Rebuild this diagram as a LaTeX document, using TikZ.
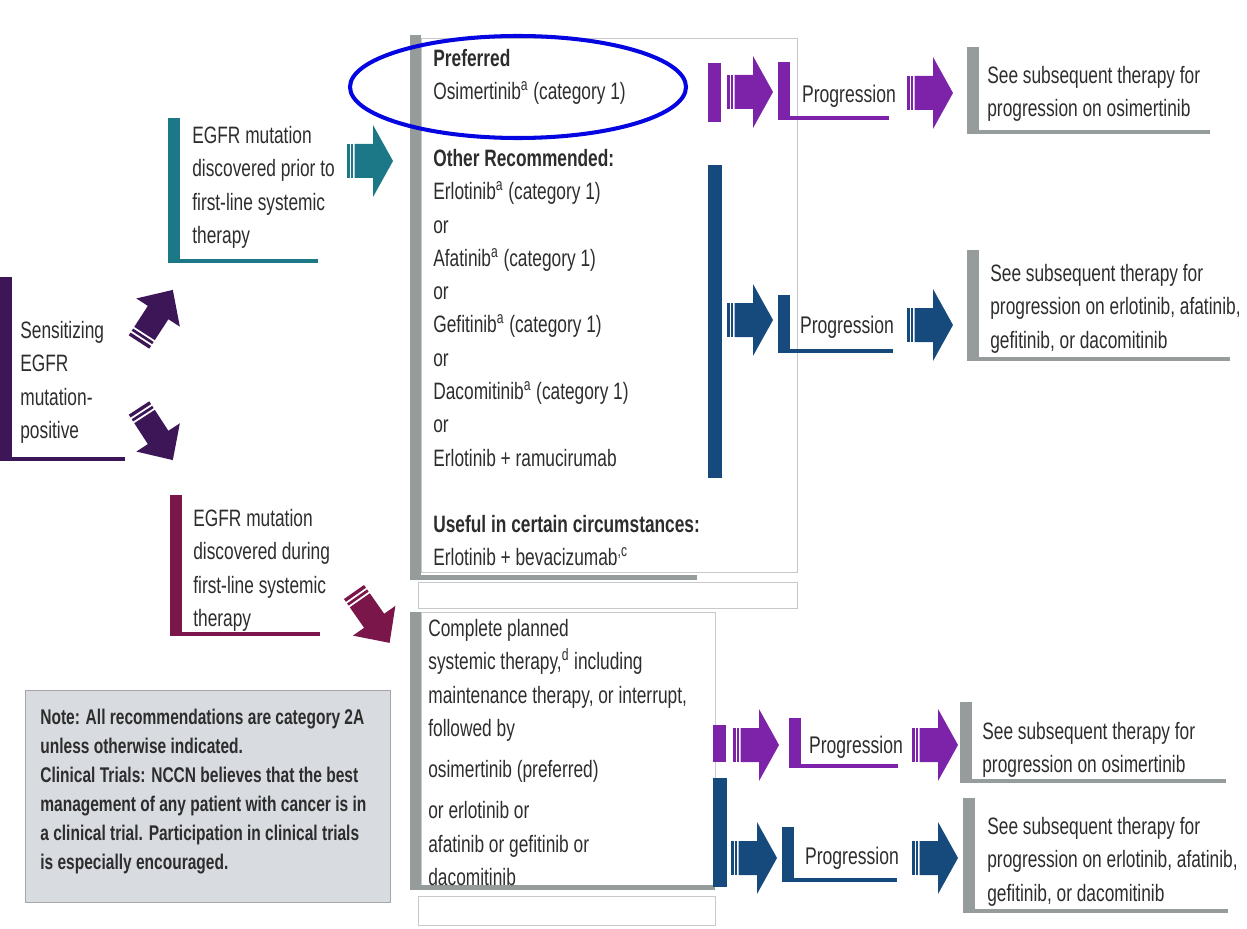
\documentclass[tikz,border=0pt]{standalone}
\usepackage{fontspec}
\setmainfont{Liberation Sans}[FakeStretch=0.73]
\usetikzlibrary{calc}
\usepackage{xcolor}

\definecolor{ink}{RGB}{45,45,45}
\definecolor{purp}{RGB}{125,35,170}
\definecolor{navy}{RGB}{22,74,124}
\definecolor{tealc}{RGB}{28,120,134}
\definecolor{maroon}{RGB}{122,22,74}
\definecolor{plum}{RGB}{60,22,86}
\definecolor{bargray}{RGB}{150,155,155}
\definecolor{linegray}{RGB}{200,200,200}
\definecolor{notegray}{RGB}{216,219,223}
\definecolor{ringblue}{RGB}{5,5,225}

% L-shaped frame: colour, x left, y top, x right, y bottom
\newcommand{\lbar}[5]{%
  \fill[#1] (#2,#3) rectangle (#2+12,#5);
  \fill[#1] (#2,#5-4) rectangle (#4,#5);
}

\tikzset{
  stripe arrow/.pic={
    \fill (0,-17) rectangle (2.5,17);
    \fill (4,-17) rectangle (6,17);
    \fill (7.5,-17) -- (26,-17) -- (26,-36) -- (46,0) -- (26,36) -- (26,17) -- (7.5,17) -- cycle;
  }
}

\begin{document}
\begin{tikzpicture}[x=0.02cm, y=-0.02cm]
\tikzstyle{txt}=[anchor=north west, inner sep=0, align=left, text=ink, font=\fontsize{13.5}{18.95}\selectfont]
\tikzstyle{notetxt}=[txt, font=\bfseries\fontsize{12.1}{16.5}\selectfont]
\tikzstyle{progtxt}=[inner sep=0, text=ink, font=\fontsize{13.7}{18.9}\selectfont]
\tikzstyle{diag}=[xscale=1.35, yscale=0.72]

\useasboundingbox (0,0) rectangle (1247,929);

% Starting point
\lbar{plum}{0}{277}{125}{461}
\node[txt] (sens) at (20,321) {Sensitizing\\EGFR\\mutation-\\positive};
\pic[fill=plum, rotate=57, diag] (up) at (139,342) {stripe arrow};
\pic[fill=plum, rotate=-57, diag] (down) at (139,408) {stripe arrow};

% Two timings of the mutation
\lbar{tealc}{168}{118}{318}{263}
\node[txt] (prior) at (192,126) {EGFR mutation\\discovered prior to\\first-line systemic\\therapy};
\pic[fill=tealc] (ta) at (347,161) {stripe arrow};

\lbar{maroon}{170}{495}{320}{636}
\node[txt] (during) at (193,509) {EGFR mutation\\discovered during\\first-line systemic\\therapy};
\pic[fill=maroon, rotate=-55, diag] (ma) at (354,592) {stripe arrow};

% First-line options
\draw[linegray] (421,38) rectangle (797,572);
\draw[linegray] (418,582) rectangle (797,608);
\fill[bargray] (410,35) rectangle (421,580);
\fill[bargray] (410,575) rectangle (697,580);
\node[txt] (first) at (433,49) {\textbf{Preferred}\\
  Osimertinib\textsuperscript{a} (category 1)\\ ~\\
  \textbf{Other Recommended:}\\
  Erlotinib\textsuperscript{a} (category 1)\\ or\\
  Afatinib\textsuperscript{a} (category 1)\\ or\\
  Gefitinib\textsuperscript{a} (category 1)\\ or\\
  Dacomitinib\textsuperscript{a} (category 1)\\ or\\
  Erlotinib + ramucirumab\\ ~\\
  \textbf{Useful in certain circumstances:}\\
  Erlotinib + bevacizumab\textsuperscript{,c}};

\draw[linegray] (421,612) rectangle (715,885);
\draw[linegray] (418,896) rectangle (715,925);
\fill[bargray] (410,612) rectangle (421,890);
\fill[bargray] (410,885) rectangle (715,890);
\node[txt] (during opts) at (428,619) {Complete planned\\
  systemic therapy,\textsuperscript{d} including\\
  maintenance therapy, or interrupt,\\
  followed by\\[4.5pt]
  osimertinib (preferred)\\[4.5pt]
  or erlotinib or\\
  afatinib or gefitinib or\\
  dacomitinib};

% Progression rows
\fill[purp] (708,63) rectangle (721,122);
\pic[fill=purp] (pa1) at (727,92) {stripe arrow};
\lbar{purp}{778}{62}{889}{120}
\node[progtxt] (prog1) at (849,96) {Progression};
\pic[fill=purp] (pa2) at (907,93) {stripe arrow};
\lbar{bargray}{967}{47}{1210}{134}
\node[txt] (sub1) at (987,66) {See subsequent therapy for\\progression on osimertinib};

\fill[navy] (708,165) rectangle (722,478);
\pic[fill=navy] (na1) at (727,320) {stripe arrow};
\lbar{navy}{778}{295}{893}{353}
\node[progtxt] (prog2) at (847,327) {Progression};
\pic[fill=navy] (na2) at (907,325) {stripe arrow};
\lbar{bargray}{967}{250}{1230}{361}
\node[txt] (sub2) at (990,264) {See subsequent therapy for\\progression on erlotinib, afatinib,\\gefitinib, or dacomitinib};

\fill[purp] (713,725) rectangle (726,762);
\pic[fill=purp] (pa3) at (733,745) {stripe arrow};
\lbar{purp}{789}{718}{898}{768}
\node[progtxt] (prog3) at (856,747) {Progression};
\pic[fill=purp] (pa4) at (912,745) {stripe arrow};
\lbar{bargray}{960}{702}{1226}{783}
\node[txt] (sub3) at (982,722) {See subsequent therapy for\\progression on osimertinib};

\fill[navy] (713,778) rectangle (727,887);
\pic[fill=navy] (na3) at (731,858) {stripe arrow};
\lbar{navy}{782}{827}{897}{882}
\node[progtxt] (prog4) at (852,858) {Progression};
\pic[fill=navy] (na4) at (912,858) {stripe arrow};
\lbar{bargray}{963}{798}{1228}{913}
\node[txt] (sub4) at (987,817) {See subsequent therapy for\\progression on erlotinib, afatinib,\\gefitinib, or dacomitinib};

% Note
\draw[gray!70, fill=notegray] (25,690) rectangle (390,902);
\node[notetxt] (note) at (40,709) {Note: All recommendations are category 2A\\
  unless otherwise indicated.\\
  Clinical Trials: NCCN believes that the best\\
  management of any patient with cancer is in\\
  a clinical trial. Participation in clinical trials\\
  is especially encouraged.};

% Highlight
\draw[ringblue, line width=2.3pt] (518,87) ellipse [x radius=168, y radius=51];
\end{tikzpicture}
\end{document}
